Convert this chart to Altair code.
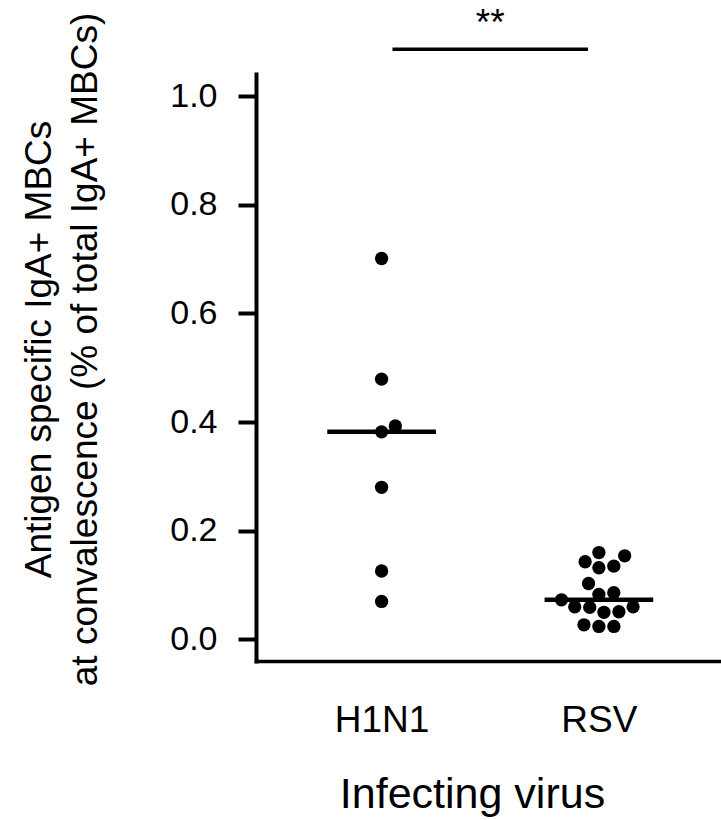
import math

import altair as alt
import pandas as pd

# Infecting virus groups and the per-donor measurements
groups = ["H1N1", "RSV"]
h1n1_values = [0.701, 0.479, 0.393, 0.382, 0.280, 0.126, 0.070]
rsv_values = [0.160, 0.154, 0.143, 0.135, 0.132, 0.103, 0.086, 0.083, 0.073,
               0.060, 0.060, 0.059, 0.051, 0.050, 0.027, 0.024, 0.024]
y_ticks = [0.0, 0.2, 0.4, 0.6, 0.8, 1.0]
significance = "**"

y_title = ["Antigen specific IgA+ MBCs", "at convalescence (% of total IgA+ MBCs)"]
x_title = "Infecting virus"

# Plot geometry
PLOT_W, PLOT_H = 465, 587
X_DOMAIN = [-0.578, 1.562]
Y_DOMAIN = [-0.0396, 1.0405]
DOT_DIAMETER = 15.0
MEDIAN_HALF_WIDTH = 0.25
BRACKET_INSET = 0.05
BRACKET_Y = 1.086
STARS_Y = 1.112
FONT = "Liberation Sans"

px_per_x = PLOT_W / (X_DOMAIN[1] - X_DOMAIN[0])
px_per_y = PLOT_H / (Y_DOMAIN[1] - Y_DOMAIN[0])


def swarm_offsets(values, diameter):
    """Greedy beeswarm: each dot takes the closest free slot to the centre."""
    placed = []
    offsets = {}
    order = sorted(range(len(values)), key=lambda i: values[i])
    for i in order:
        y = values[i] * px_per_y
        candidates = [0.0]
        for px, py in placed:
            dy = abs(py - y)
            if dy < diameter:
                dx = math.sqrt(diameter ** 2 - dy ** 2)
                candidates += [px + dx, px - dx]
        candidates.sort(key=lambda c: (round(abs(c), 6), -c))
        chosen = candidates[-1]
        for c in candidates:
            if all((c - px) ** 2 + (y - py) ** 2 >= diameter ** 2 - 1e-6
                   for px, py in placed):
                chosen = c
                break
        placed.append((chosen, y))
        offsets[i] = chosen / px_per_x
    return [offsets[i] for i in range(len(values))]


rows = []
medians = []
for gi, (name, vals) in enumerate(zip(groups, [h1n1_values, rsv_values])):
    offs = swarm_offsets(vals, DOT_DIAMETER)
    for v, o in zip(vals, offs):
        rows.append({"group": name, "x": gi + o, "value": v})
    med = float(pd.Series(vals).median())
    medians.append({"group": name, "x": gi - MEDIAN_HALF_WIDTH,
                    "x2": gi + MEDIAN_HALF_WIDTH, "value": med})

points_df = pd.DataFrame(rows)
median_df = pd.DataFrame(medians)
bracket_df = pd.DataFrame([{"x": 0 + BRACKET_INSET, "x2": 1 - BRACKET_INSET,
                            "y": BRACKET_Y}])
stars_df = pd.DataFrame([{"x": 0.5, "y": STARS_Y, "label": significance}])

label_expr = "[" + ",".join(f"'{g}'" for g in groups) + "][datum.value]"

x_scale = alt.Scale(domain=X_DOMAIN, nice=False, zero=False)
y_scale = alt.Scale(domain=Y_DOMAIN, nice=False, zero=False)

x_axis = alt.Axis(
    values=list(range(len(groups))),
    labelExpr=label_expr,
    ticks=False,
    tickSize=0,
    grid=False,
    domainColor="black",
    domainWidth=3.5,
    domainCap="square",
    labelFont=FONT,
    labelFontSize=37,
    labelColor="black",
    labelBaseline="alphabetic",
    labelPadding=70,
    title=x_title,
    titleFont=FONT,
    titleFontSize=43,
    titleFontWeight="normal",
    titleColor="black",
    titleX=216,
    titleY=146,
    titleBaseline="alphabetic",
    titleAlign="center",
)

y_axis = alt.Axis(
    values=y_ticks,
    format=".1f",
    grid=False,
    domainColor="black",
    domainWidth=4,
    domainCap="square",
    tickColor="black",
    tickWidth=4,
    tickSize=18,
    labelFont=FONT,
    labelFontSize=34,
    labelColor="black",
    labelPadding=21,
    title=y_title,
    titleFont=FONT,
    titleFontSize=37,
    titleFontWeight="normal",
    titleColor="black",
    titleAngle=270,
    titleX=-206,
    titleY=275,
    titleAlign="center",
    titleBaseline="alphabetic",
    titleLineHeight=46,
)

dots = alt.Chart(points_df).mark_circle(
    size=math.pi * (DOT_DIAMETER / 2) ** 2, color="black", opacity=1
).encode(
    x=alt.X("x:Q", scale=x_scale, axis=x_axis),
    y=alt.Y("value:Q", scale=y_scale, axis=y_axis),
)

median_lines = alt.Chart(median_df).mark_rule(color="black", strokeWidth=4.5).encode(
    x=alt.X("x:Q", scale=x_scale),
    x2="x2:Q",
    y=alt.Y("value:Q", scale=y_scale),
)

bracket = alt.Chart(bracket_df).mark_rule(color="black", strokeWidth=3.5).encode(
    x=alt.X("x:Q", scale=x_scale),
    x2="x2:Q",
    y=alt.Y("y:Q", scale=y_scale),
)

stars = alt.Chart(stars_df).mark_text(
    font=FONT, fontSize=37, color="black", baseline="alphabetic", align="center"
).encode(
    x=alt.X("x:Q", scale=x_scale),
    y=alt.Y("y:Q", scale=y_scale),
    text="label:N",
)

chart = alt.layer(median_lines, dots, bracket, stars).properties(
    width=PLOT_W,
    height=PLOT_H,
    autosize=alt.AutoSizeParams(type="none"),
    padding={"left": 256, "top": 74, "right": 0, "bottom": 159},
    background="white",
).configure_view(stroke=None)

chart.save("out.html", embed_options={"renderer": "svg", "actions": False})
